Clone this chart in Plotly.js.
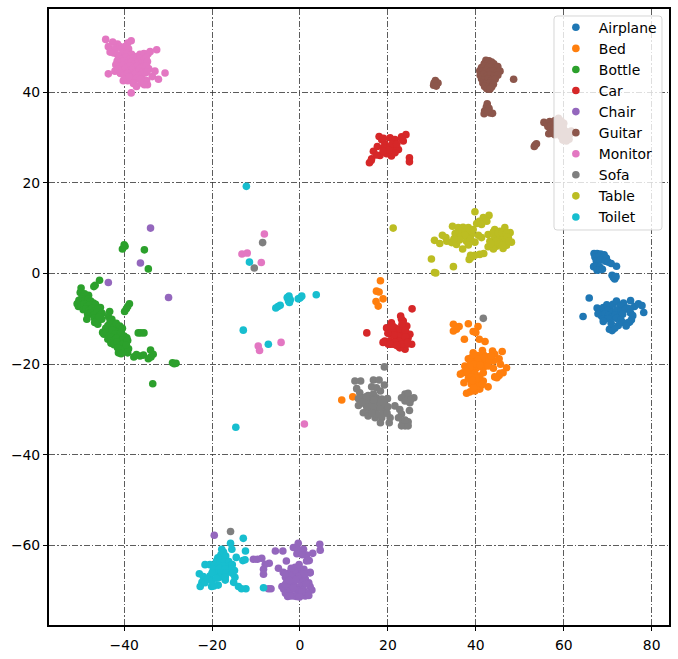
<!DOCTYPE html>
<html><head><meta charset="utf-8">
<script src="https://cdn.plot.ly/plotly-3.0.1.min.js"></script>
<style>html,body{margin:0;padding:0;background:#fff}</style></head><body>
<div id="chart" style="width:678px;height:659px"></div>
<script>
const names = ["Airplane","Bed","Bottle","Car","Chair","Guitar","Monitor","Sofa","Table","Toilet"];
const colors = ["#1f77b4","#ff7f0e","#2ca02c","#d62728","#9467bd","#8c564b","#e377c2","#7f7f7f","#bcbd22","#17becf"];

const airplanePts = [[66.9,4.4],[67.6,4.4],[68.4,4.3],[69.2,4.1],[67.1,3.6],[68,3.7],[68.9,3.5],[69.7,3.4],[67.4,2.8],[68.3,2.9],[69.5,2.7],[70.1,2.5],[66.8,1.5],[67.5,1.6],[68.2,1.4],[72,1.6],[70.8,2.2],[67.6,.7],[68.2,.8],[68.8,.9],[71,-.4],[71.3,-.9],[71.6,-1.2],[71.9,-.7],[64.4,-9.5],[65.8,-5.4],[67.6,-7.6],[68.2,-8.3],[69,-7.5],[69.8,-6.9],[70.5,-7.7],[71.2,-6.8],[72,-6.1],[72.8,-7.2],[73.6,-6.5],[74.4,-7.6],[75.2,-6],[76.1,-7.3],[77,-6.7],[77.8,-7.1],[78.2,-8.6],[68,-8.8],[69,-8.6],[70,-8.2],[71,-8.6],[72,-8.1],[73,-8.4],[74,-7.9],[75,-7.8],[67.8,-8.9],[68.6,-9.4],[69.4,-8.9],[70.2,-9.3],[71,-9.6],[71.8,-9.1],[72.6,-9.5],[73.4,-9],[69,-10],[70,-10],[72,-9.9],[73,-10.2],[75.2,-8.7],[75.7,-9.3],[75.4,-10.2],[75,-10.7],[74.6,-10.9],[72.4,-11.5],[73.4,-10.8],[74.2,-11.6],[70.4,-12.3],[71,-12.6],[71.6,-12.1],[69,-10.6],[70.8,-11]];

const bedPts = [[18.3,-1.6],[17.4,-3.9],[18,-4.1],[18.9,-5.6],[17.3,-6.2],[17.8,-7.2],[12,-27.2],[9.5,-27.9],[34.9,-11.2],[38.3,-11.1],[36.2,-11.7],[35.6,-12.3],[34.9,-12.7],[40.5,-11.7],[39.4,-12.8],[40,-13],[37.4,-14.5],[40.8,-14.5],[42.1,-15],
[46,-17.2],[43.8,-17.1],[41.5,-17],[39.4,-17.5],[38.3,-18.8],[39,-18.6],[40.3,-18.1],[41.7,-17.8],[42.8,-18.4],[44.3,-17.8],[45.3,-18.8],[40,-19.3],[41.3,-19.3],[42.5,-19.7],[44,-19.3],[45.6,-20],[47,-20.8],[46.2,-21.9],[45.3,-22.5],[44.3,-22.8],[44,-20.9],[41.7,-20.8],[42.8,-20.4],[40.2,-20.8],[39,-21.1],[37.5,-20.4],[37.1,-21.9],[36.5,-22.2],[38.3,-22.2],[39.8,-22],[40.9,-22.6],[38.3,-23.2],[37.3,-24.1],[39,-24.4],[40.2,-23.7],[41.7,-23.7],[42.8,-25],[40.9,-25.5],[39.8,-25.9],[38.7,-26.1],[37.9,-26.4],[40.6,-24.8],[41.7,-21.9],[37.9,-21.1],[39.5,-18],[40.6,-19],[42,-18.5],[43,-19],[38.8,-19.5],[39.5,-20],[41,-20.2],[38.7,-20.6],[38,-21.6],[39,-22.8],[40,-23],[39.2,-23.6],[39.5,-25.2],[41.5,-24.5],[43.5,-18.2],[44.8,-23],[45.5,-22]];

const bottleX = [-39.8,-40.4,-40,-35.4,-34.5,-45.6,-46.6,-46.9,-49.8,-50,-48.1,-49,-49.6,-50.3,-50.7,-50.1,-49.5,-48.9,-48.2,-47.6,-47,-50.4,-49.8,-49.1,-48.5,-47.8,-47.1,-46.5,-49.3,-48.7,-48,-47.3,-46.7,-46,-45.4,-48.3,-47.6,-47,-46.2,-45.6,-45,-46.8,-46,-48.5,-46.7,-46,-45.1,-45.7,-43.3,-43.6,-42.8,-43.2,-38.8,-39.2,-39.9,-39.5,-44.9,-44.2,-43.7,-43,-42.4,-41.8,-41,-40.4,-42,-41.3,-44.6,-44,-43.3,-42.7,-42,-41.4,-40.7,-40,-39.4,-43.7,-43,-42.4,-41.8,-41,-40.3,-39.6,-43,-42.3,-41.6,-40.9,-40.2,-39.2,-39.9,-40.6,-41.5,-41.3,-39.2,-39,-37.8,-36.4,-35.6,-34.5,-34,-33.4,-33.9,-37.2,-36.8,-36.2,-35.5,-29,-28.2,-28.6,-33.5,-39.5,-40.7];
const bottleY = [6,5.4,6.3,5.2,1,-1.5,-2.6,-2.9,-3.2,-4.2,-4.8,-4.5,-5.3,-5.9,-6.7,-6.6,-5.6,-5.9,-5.7,-6.1,-6.5,-7.3,-7,-6.7,-7.3,-6.9,-7.5,-6.8,-8,-7.8,-8.2,-7.7,-8.3,-7.9,-7.5,-9,-8.7,-9.2,-8.6,-9.3,-8.8,-9.8,-10,-10.1,-10.8,-11.2,-10.1,-9.6,-8.4,-9.5,-10.1,-10.5,-6.7,-7.3,-8.4,-7.8,-13,-12.1,-11.5,-11.2,-11.8,-11,-11.6,-12.1,-12.7,-12.9,-13.4,-13,-13.6,-12.6,-13.3,-13.9,-13.1,-13.8,-14.2,-14.5,-14.1,-14.8,-14.3,-15,-14.6,-15.2,-15.4,-15.7,-15.1,-15.9,-15.5,-14.8,-16.5,-16.8,-16.4,-17.5,-17.5,-16.6,-18.4,-18.2,-18,-18.8,-16.9,-17.8,-18.4,-17.9,-13.1,-13.1,-13.1,-19.7,-19.8,-19.9,-24.3,-15.8,-17.7];

const carPts = [[15.2,-13.1],[25.5,-7.8],
[15.8,24.4],[16.3,25.3],[16.7,26.95],[17.6,28],[18,30.2],[18.6,29.5],[19.3,28.6],[20.5,29.9],[21.6,29.5],[23.1,30.1],[24.1,30.6],[23.5,29.2],[22.4,27.3],[21.2,27.7],[20.5,28],[20.8,25.9],[19.7,26.4],[18.2,26],[19,27.7],[21.6,26.6],[24.9,25.5],[24.9,24.6],[19,29.8],[20.2,27.2],[21,28.6],[22,28.5],[23.1,29.7],[16.2,24.9],[18.9,27],[17.4,26.1],
[22.9,-9.4],[23.5,-10.5],[24.3,-11.6],[20.8,-10.9],[19.7,-12],[21.6,-12],[25,-13.4],[23.5,-13],[22,-13],[20.5,-13.4],[19.3,-14.9],[20.5,-14.9],[22,-14.5],[23.5,-14.5],[24.6,-14.2],[25.4,-15.6],[23.9,-16.7],[22.7,-16.4],[21.2,-15.6],[20.1,-15.6],[23.1,-10.1],[22.4,-13.8],[20.8,-12.7],[24.3,-15.6],[21,-11.5],[21.4,-13.6],[22.8,-12.2],[24,-12.6],[22.6,-15],[21.6,-15.2],[23.2,-15.6],[24,-14],[20.6,-15.6],[22,-15.9],[24.5,-15.2],[18.9,-15.2],[23.2,-11.2],[20,-13.2]];

const chairPts = [[-34,10],[-36.3,2.3],[-43.6,-2],[-29.9,-5.3],[-19.5,-57.7],[-10.6,-63],[-9.7,-63],[-8.7,-62.8],[-7,-63.9],[-7.9,-64.1],[-8.3,-65.2],[-8.3,-66.3],[-6.6,-69.5],[-7.2,-69.5],[-5.6,-61.2],[-3.9,-61.2],[-3.1,-63.4],[-4.9,-65],[-3.8,-65.9],[-1.5,-60.4],[-.4,-59.5],[.8,-60.8],[2.9,-61.7],[1.5,-62.1],[2.1,-63.3],[4.5,-59.7],[4.6,-61],[2.3,-65.9],[-.3,-60.9],[-.7,-61.8],[.5,-62],[1.5,-63.4],
[-1.1,-64.8],[-.3,-65.4],[-1.8,-65.6],[-2.6,-66.1],[-1.1,-66.1],[.4,-66.3],[2.3,-66],[-3.3,-67],[-2.1,-66.8],[-.3,-66.8],[1.2,-67.3],[-4.1,-69],[-3,-68],[-1.8,-67.8],[-.7,-67.4],[.4,-68],[2,-68.2],[-3.7,-69.6],[-2.6,-69],[-1.3,-68.7],[.1,-69],[2.3,-69],[-3.3,-70.5],[-2.2,-70],[-.7,-69.8],[.8,-69.8],[2.7,-69.8],[-2.8,-71.2],[-1.5,-71.1],[-.3,-70.7],[1.2,-71.1],[-.8,-71.2],[-2.2,-71.1],[-3.3,-68.5],[-1.5,-69.3],[1.6,-70.4],[-.2,-64.2],[-1,-67.6],[.9,-65.2],[1.4,-68.4],[-2.4,-67.7],[.4,-70.2],[-3.4,-66.2],[1,-66.2],[-.1,-71.3],[2,-71],[-2,-65]];

const guitarX = [48.6,42.3,43,43.6,41.9,42.6,43.3,44.1,41.3,42,42.7,43.5,44.3,45,40.9,41.6,42.4,43.2,44,44.8,45.5,41,41.8,42.6,43.4,44.2,45,41.3,42,42.8,43.6,44.4,41.6,42.4,43.2,44,42,42.8,43.6,42.5,43.2,30.4,30.8,31,31.4,30.5,31,42.6,42.4,43,42,41.9,43.3,43.8,42.7,53.3,53.8,53.5,55.5,56.2,56.8,57.4,58,56.4,57.1,57.8,58.4,57,57.6,58.2,56.6,57.3,58,58.8,59.4,60,58.6,59.2,59.9,60.5,58.8,59.4,60,61,61.7,59.4,60.1,60.8,61.4,59.8,60.6,61.2];
const guitarY = [42.8,47,46.9,46.6,46.2,46.3,46,46.2,45.4,45.6,45.3,45.5,45.2,45.6,44.7,44.5,44.8,44.4,44.7,44.3,44.6,43.7,43.9,43.6,43.8,43.5,43.7,42.9,42.7,42.9,42.6,42.8,42,41.8,42,41.7,41.2,41,41.1,40.7,40.6,41.5,42.5,41.8,42,42,41.3,37.4,36.7,36.4,35.8,35.2,35.4,35.3,35.8,28,28.6,28.3,33.3,33,33.5,33.2,33.7,32.4,32.6,32.2,32.8,31.3,31.6,31.1,30.8,30.9,30.6,34.2,33.6,33.1,33,32.6,32.1,31.3,31.8,31.2,31.5,31,31.4,30.2,30.4,30.1,30.7,29.4,29.2,29.6];

const monitorX = [-44.2,-42.6,-41.5,-43.6,-43,-42,-41,-40.6,-38.4,-39.2,-39.8,-39,-43.2,-42.4,-41.5,-40.2,-39.4,-38.3,-37.2,-36.4,-35.5,-34.6,-34.1,-32.6,-43.6,-42.1,-40.9,-40.2,-39.2,-37.7,-36,-34.9,-34.7,-33.6,-33,-32.2,-30.7,-38.4,-41.2,-40.4,-39.6,-38.8,-38,-37.2,-36.4,-35.6,-41.6,-40.8,-40,-39.2,-38.4,-37.6,-36.8,-36,-35.2,-41.9,-41.1,-40.3,-39.5,-38.7,-37.9,-37.1,-36.3,-35.5,-41.4,-40.6,-39.8,-39,-38.2,-37.4,-36.6,-35.8,-35,-40.8,-40,-39.2,-38.4,-37.6,-36.8,-36,-35.2,-38.7,-37.9,-37.1,-36.3,-8.1,-13.2,-12,-8.8,-9.5,-9.2,-4.3,1,-39.6,-38.9,-37.9,-37.2,-35,-34.7,-34.9,-34.4,-34.8,-36.1,-35.4];
const monitorY = [51.6,51,50.6,50,49.3,49.6,50,49.6,51.3,50.8,50,49.5,48.8,48.6,48.2,48.7,48.5,48.3,47.8,48.3,48.5,48.4,48.9,49.3,44,44.6,44.2,42.5,42.5,42.4,43,42.5,41.6,43.4,44.6,42.8,44.2,39.8,47.7,47.3,47.6,47.2,47.5,47.1,47.4,47,46.8,46.5,46.9,46.4,46.7,46.2,46.6,46.3,46.7,46,45.6,45.9,45.4,45.8,45.3,45.7,45.2,45.5,45,44.7,45,44.5,44.8,44.3,44.7,44.4,44.8,44.1,43.7,44.1,43.6,43.9,43.4,43.8,44.2,43.2,42.9,43.1,42.8,8.7,4.3,4.5,2.4,-16,-17,-15.2,-33.2,42.9,43.3,41.9,41.2,47.6,46.7,45.8,45.1,44.4,42,41.6];

const sofaPts = [[-8.5,6.8],[-10.4,1.2],[-15.8,-56.9],[41.7,-9.9],[19.2,-20.6],
[12.5,-23.7],[13.8,-23.7],[16.7,-23.5],[18,-23.5],[19.2,-24.6],[16.3,-25],[17.4,-25.2],[12.9,-25.4],[18.3,-25.9],[13.6,-26.3],[15.5,-26.9],[16.7,-26.6],[13.3,-27.6],[14.4,-27.4],[15.9,-27.7],[17.4,-27.4],[18.6,-27.7],[19.9,-27.6],[13.3,-29.1],[14.8,-28.8],[16.3,-28.8],[17.8,-28.8],[19.3,-29.2],[14.4,-30.7],[15.9,-30.3],[17.4,-30],[19,-30.3],[15.5,-31.4],[17.1,-31.8],[18.6,-31.8],[18.3,-32.9],[20.3,-32.9],[20.5,-31.8],[21.6,-29.2],[22.7,-30],[23.1,-31],[22.4,-31.8],[23.1,-27.4],[23.9,-26.6],[24.6,-27.2],[25.9,-27.4],[25,-28.5],[23.9,-28.1],[24.9,-30.2],[23.4,-32.7],[24.6,-32.7],[23.9,-33.6],[23.1,-33.6],[24.6,-33.6],[23.9,-32.3],
[15,-28],[16.8,-27.9],[15.2,-29.5],[16.8,-29.6],[18.2,-29.6],[17.4,-31],[18.8,-31],[19.8,-30.8],[20,-29.4],[15,-27.2],[24.6,-26.4],[25.2,-27.8],[16.4,-30.8],[14.2,-28.4],[19,-28.4]];

const tablePts = [[39.8,13.6],[43,12.8],[41.7,12.3],[40.8,11.5],[40.2,11],[42.5,11.5],[41.3,10.8],[34.7,10.4],[36,10.1],[37.1,10.2],[38.3,10.1],[36.5,9.3],[35.3,8.8],[37.5,9],[39,8.6],[40.6,8.4],[37.9,7.9],[36.4,8.1],[32.4,8.4],[33.2,7.9],[30.6,7.3],[31.8,6.6],[33.4,7.1],[34.5,6.8],[35.6,6.4],[37,5.4],[37.9,7.1],[39.8,6.9],[41.3,7.9],[42.8,8.6],[44.3,9.7],[45.5,9.3],[46.6,10.1],[47.8,9],[47.4,7.9],[48.1,6.9],[47,6.2],[46.2,5.5],[44.7,6],[42.8,5.9],[43.2,7.1],[44.3,8.1],[45.5,7.9],[46.2,8.3],[44.7,7.1],[41.8,4.4],[40.9,4.2],[39.8,4],[38.8,4],[38.5,3.1],[29.9,3.2],[34.9,1.5],[30.6,.2],[30.9,.1],[21.2,10],[38.6,9.5],[39.4,9.7],[37.5,8.4],[38.8,7.6],[36.3,7.4],[35,7.6],[44,9.2],[45,8.9],[46,9],[46.9,8.8],[47.2,8],[46.4,7],[45.5,6.5],[44,5.4],[43.4,6.6],[46,6.2],[47.5,7.2],[38.3,6.3],[39.1,3.6]];

const toiletPts = [[-12.2,19.2],[-11.5,2.5],[-12.9,-12.5],[-7.2,-15.6],[-14.6,-33.9],[3.7,-4.7],[0,-5.4],[.4,-5],[-.4,-5.6],[-2.5,-5],[-2.7,-5.6],[-2.6,-6.1],[-2.9,-5.3],[-2.2,-5.8],[-2.4,-6.4],[-5,-7.3],[-4.5,-7],[-5.5,-7.6],
[-12.9,-58.4],[-15.8,-59.5],[-15.5,-60.8],[-12.4,-61.2],[-17.8,-60.8],[-14.5,-62.6],[-13,-63.3],[-12.5,-63.1],[-21.6,-64.2],[-20.5,-64.2],[-22.9,-66.2],[-22,-66.8],[-20.5,-66.7],[-22.3,-68.1],[-22.7,-69],[-21.6,-68.2],[-20.1,-69],[-18.6,-68.7],[-17,-67.6],[-15.1,-68.1],[-14,-69],[-12.3,-69.5],[-13.3,-69.5],[-14.8,-67],[-8.3,-69.3],[-21,-67.4],[-19.6,-68.9],[-20,-67.8],
[-17.4,-61.4],[-18,-62],[-18.7,-62.7],[-16.9,-62.3],[-19,-63.4],[-18.1,-63.2],[-17.3,-63.6],[-16.2,-63.5],[-19.5,-64.3],[-18.5,-64.4],[-17.4,-64.5],[-16.2,-64.6],[-15.4,-64.2],[-19.7,-65.2],[-18.3,-65],[-17,-65.1],[-15.5,-65.2],[-14.9,-65.5],[-19.2,-66.1],[-18,-66],[-16.8,-66],[-15.4,-66.1],[-18.3,-67],[-17,-66.9],[-20,-66],[-19,-67.2]];

const xTicks = [-40,-20,0,20,40,60,80];
const yTicks = [-60,-40,-20,0,20,40];
const col = (pts,i)=>pts.map(p=>p[i]);
const xs = [col(airplanePts,0),col(bedPts,0),bottleX,col(carPts,0),col(chairPts,0),guitarX,monitorX,col(sofaPts,0),col(tablePts,0),col(toiletPts,0)];
const ys = [col(airplanePts,1),col(bedPts,1),bottleY,col(carPts,1),col(chairPts,1),guitarY,monitorY,col(sofaPts,1),col(tablePts,1),col(toiletPts,1)];

const traces = names.map((n,i)=>{const m=Math.min(xs[i].length,ys[i].length);return {type:"scatter",mode:"markers",name:n,x:xs[i].slice(0,m),y:ys[i].slice(0,m),
  marker:{color:colors[i],size:7.6,line:{width:0}}};});
const fmt = v=>String(v).replace("-","\u2212");
const ax = {showline:true,mirror:true,linewidth:2,linecolor:"#000",ticks:"outside",ticklen:4,tickwidth:1,tickcolor:"#000",
  showgrid:true,gridcolor:"#333",gridwidth:0.8,griddash:"6px,2px,1.5px,2px",zeroline:false,
  tickfont:{family:"DejaVu Sans",size:13.9,color:"#000"}};
// legend frame: same size as the reference's, which is tighter than Plotly's own legend box
const px = v=>(v-49)/620, py = v=>(625-v)/616;
const L=554,R=662,T=16,B=230,C=3;
const framePath = `M${px(L+C)},${py(T)} L${px(R-C)},${py(T)} Q${px(R)},${py(T)} ${px(R)},${py(T+C)} L${px(R)},${py(B-C)} Q${px(R)},${py(B)} ${px(R-C)},${py(B)} L${px(L+C)},${py(B)} Q${px(L)},${py(B)} ${px(L)},${py(B-C)} L${px(L)},${py(T+C)} Q${px(L)},${py(T)} ${px(L+C)},${py(T)} Z`;
Plotly.newPlot("chart",traces,{
  width:678,height:659,margin:{l:49,r:9,t:9,b:34},paper_bgcolor:"#fff",plot_bgcolor:"#fff",
  xaxis:Object.assign({},ax,{range:[-57.1,83.95],tickmode:"array",tickvals:xTicks,ticktext:xTicks.map(fmt),ticklabelstandoff:2}),
  yaxis:Object.assign({},ax,{range:[-77.5,58.3],tickmode:"array",tickvals:yTicks,ticktext:yTicks.map(fmt)}),
  shapes:[{type:"path",xref:"paper",yref:"paper",path:framePath,layer:"above",fillcolor:"rgba(255,255,255,0.8)",line:{color:"rgba(204,204,204,0.8)",width:1}}],
  legend:{x:0.9885,xanchor:"right",y:0.9955,yanchor:"top",bgcolor:"rgba(0,0,0,0)",borderwidth:0,
    font:{family:"DejaVu Sans",size:13.9,color:"#000"},itemsizing:"trace",itemwidth:36},
  showlegend:true
},{displayModeBar:false,staticPlot:true});
</script></body></html>
